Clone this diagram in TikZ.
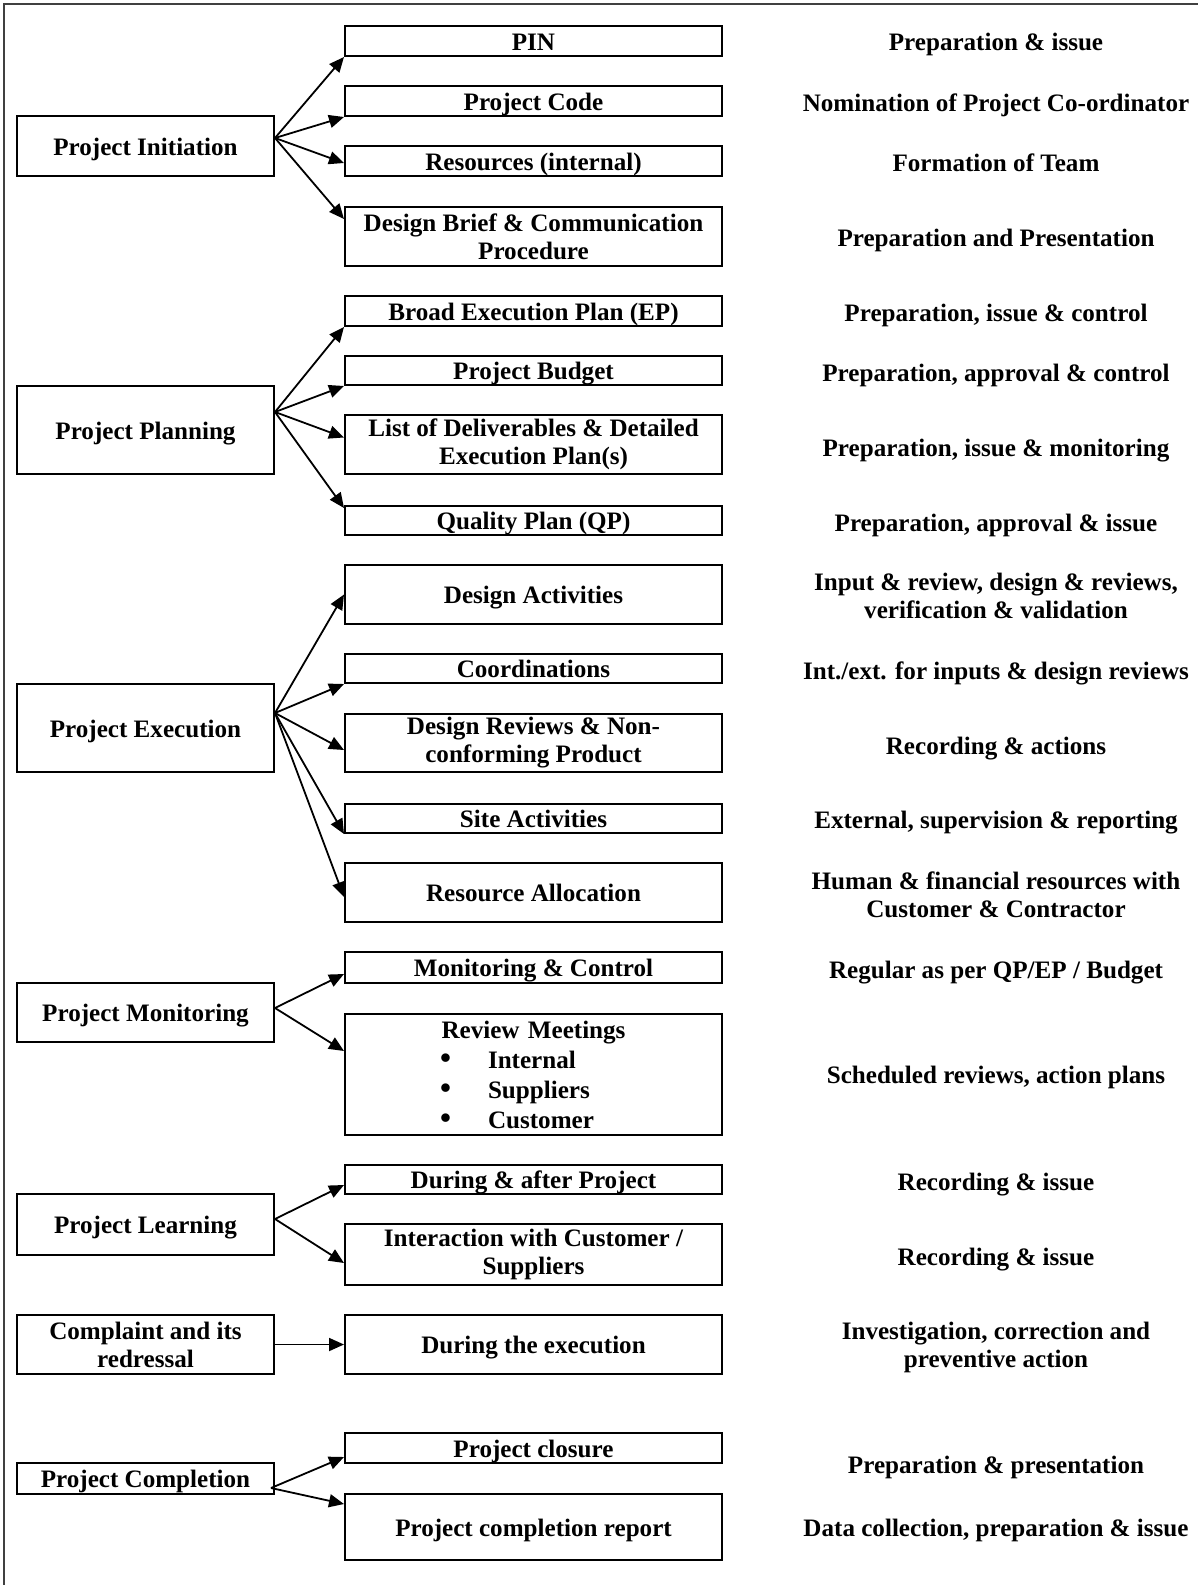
\documentclass[tikz,border=0pt]{standalone}
\usepackage{fontspec}
\setmainfont{Liberation Serif}
\usetikzlibrary{arrows.meta,calc}
\begin{document}
\begin{tikzpicture}[x=0.5pt,y=-0.5pt,
  every node/.style={font=\fontsize{12.55}{14}\selectfont\bfseries},
  box/.style={draw,line width=1pt,inner sep=0pt,align=center},
  one/.style={text height=11.2pt,text depth=2pt},
  lbox/.style={box,minimum width=128.5pt},
  mbox/.style={box,minimum width=188.5pt},
  rtext/.style={align=center,inner sep=0pt},
  arr/.style={-{Triangle[length=7.5pt,width=6.5pt]},line width=0.9pt}]
\useasboundingbox (0,0) rectangle (1198,1585);
\fill[white] (0,0) rectangle (1198,1585);
\draw[line width=1.2pt,black!75] (4,1585) -- (4,4) -- (1198,4);

% left boxes
\node[lbox,one,minimum height=30pt]   (init)  at (145.5,146)    {Project Initiation};
\node[lbox,one,minimum height=44pt]   (plan)  at (145.5,430)    {Project Planning};
\node[lbox,one,minimum height=44pt]   (exec)  at (145.5,728)    {Project Execution};
\node[lbox,one,minimum height=29.5pt] (mon)   at (145.5,1012.5) {Project Monitoring};
\node[lbox,one,minimum height=30.5pt] (learn) at (145.5,1224.5) {Project Learning};
\node[lbox,minimum height=29.5pt]     (compl) at (145.5,1344.5) {Complaint and its\\redressal};
\node[lbox,one,minimum height=15.5pt] (comp)  at (145.5,1478.5) {Project Completion};

% middle boxes
\node[mbox,one,minimum height=15pt]   (pin)    at (533.5,41)     {PIN};
\node[mbox,one,minimum height=15pt]   (code)   at (533.5,101)    {Project Code};
\node[mbox,one,minimum height=15pt]   (res)    at (533.5,161)    {Resources (internal)};
\node[mbox,minimum height=29.5pt]     (db)     at (533.5,236.5)  {Design Brief \& Communication\\Procedure};
\node[mbox,one,minimum height=15pt]   (ep)     at (533.5,311)    {Broad Execution Plan (EP)};
\node[mbox,one,minimum height=14.5pt] (bud)    at (533.5,370.5)  {Project Budget};
\node[mbox,minimum height=29.5pt]     (del)    at (533.5,444.5)  {List of Deliverables \& Detailed\\Execution Plan(s)};
\node[mbox,one,minimum height=14.5pt] (qp)     at (533.5,520.5)  {Quality Plan (QP)};
\node[mbox,one,minimum height=29.5pt] (da)     at (533.5,594.5)  {Design Activities};
\node[mbox,one,minimum height=14.5pt] (coord)  at (533.5,668.5)  {Coordinations};
\node[mbox,minimum height=29pt]       (dr)     at (533.5,743)    {Design Reviews \& Non-\\conforming Product};
\node[mbox,one,minimum height=14.5pt] (site)   at (533.5,818.5)  {Site Activities};
\node[mbox,one,minimum height=29.5pt] (ra)     at (533.5,892.5)  {Resource Allocation};
\node[mbox,one,minimum height=15.5pt] (mc)     at (533.5,967.5)  {Monitoring \& Control};
\node[mbox,minimum height=60.5pt,text width=188.5pt,align=left,
      font=\fontsize{12.55}{15}\selectfont\bfseries] (rm) at (533.5,1074.5)
  {\makebox[188.5pt][c]{Review Meetings}\\
   \hspace*{47.5pt}\makebox[24pt][l]{\scalebox{1.25}{\textbullet}}Internal\\
   \hspace*{47.5pt}\makebox[24pt][l]{\scalebox{1.25}{\textbullet}}Suppliers\\
   \hspace*{47.5pt}\makebox[24pt][l]{\scalebox{1.25}{\textbullet}}Customer};
\node[mbox,one,minimum height=14.5pt] (during) at (533.5,1179.5) {During \& after Project};
\node[mbox,minimum height=30.5pt]     (inter)  at (533.5,1254.5) {Interaction with Customer /\\Suppliers};
\node[mbox,one,minimum height=29.5pt] (dexec)  at (533.5,1344.5) {During the execution};
\node[mbox,one,minimum height=15pt]   (clos)   at (533.5,1448)   {Project closure};
\node[mbox,one,minimum height=33pt]   (rep)    at (533.5,1527)   {Project completion report};

% right texts
\node[rtext,one] (r1)  at (996,41.5) {Preparation \& issue};
\node[rtext,one] (r2)  at (996,102)  {Nomination of Project Co-ordinator};
\node[rtext,one] (r3)  at (996,162)  {Formation of Team};
\node[rtext,one] (r4)  at (996,237)  {Preparation and Presentation};
\node[rtext,one] (r5)  at (996,312)  {Preparation, issue \& control};
\node[rtext,one] (r6)  at (996,372)  {Preparation, approval \& control};
\node[rtext,one] (r7)  at (996,447)  {Preparation, issue \& monitoring};
\node[rtext,one] (r8)  at (996,522)  {Preparation, approval \& issue};
\node[rtext] (r9)  at (996,596)  {Input \& review, design \& reviews,\\verification \& validation};
\node[rtext,one] (r10) at (996,670)  {Int./ext. for inputs \& design reviews};
\node[rtext,one] (r11) at (996,745)  {Recording \& actions};
\node[rtext,one] (r12) at (996,819)  {External, supervision \& reporting};
\node[rtext] (r13) at (996,895)  {Human \& financial resources with\\Customer \& Contractor};
\node[rtext,one] (r14) at (996,969)  {Regular as per QP/EP / Budget};
\node[rtext,one] (r15) at (996,1074) {Scheduled reviews, action plans};
\node[rtext,one] (r16) at (996,1181) {Recording \& issue};
\node[rtext,one] (r17) at (996,1256) {Recording \& issue};
\node[rtext] (r18) at (996,1347) {Investigation, correction and\\preventive action};
\node[rtext,one] (r19) at (996,1464) {Preparation \& presentation};
\node[rtext,one] (r20) at (996,1527) {Data collection, preparation \& issue};

% arrows
\coordinate (oi) at ($(init.east)+(0,-8)$);
\draw[arr] (oi) -- (pin.south west);
\draw[arr] (oi) -- (code.south west);
\draw[arr] (oi) -- ($(res.west)+(0,2)$);
\draw[arr] (oi) -- ($(db.north west)+(0,13)$);

\coordinate (op) at ($(plan.east)+(0,-18)$);
\draw[arr] (op) -- (ep.south west);
\draw[arr] (op) -- (bud.south west);
\draw[arr] (op) -- ($(del.west)+(0,-7)$);
\draw[arr] (op) -- ($(qp.north west)+(0,3)$);

\coordinate (oe) at ($(exec.east)+(0,-15)$);
\draw[arr] (oe) -- (da.west);
\draw[arr] (oe) -- (coord.south west);
\draw[arr] (oe) -- ($(dr.west)+(0,7)$);
\draw[arr] (oe) -- (site.south west);
\draw[arr] (oe) -- ($(ra.west)+(0,4.5)$);

\coordinate (om) at ($(mon.east)+(0,-4.5)$);
\draw[arr] (om) -- ($(mc.west)+(0,6.5)$);
\draw[arr] (om) -- ($(rm.north west)+(0,38)$);

\coordinate (ol) at ($(learn.east)+(0,-5.5)$);
\draw[arr] (ol) -- ($(during.west)+(0,5.5)$);
\draw[arr] (ol) -- ($(inter.west)+(0,8.5)$);

\draw[arr] (compl.east) -- (dexec.west);

\coordinate (oc) at ($(comp.east)+(-4,9.5)$);
\draw[arr] (oc) -- ($(clos.west)+(0,9)$);
\draw[arr] (oc) -- ($(rep.north west)+(0,11)$);
\end{tikzpicture}
\end{document}
